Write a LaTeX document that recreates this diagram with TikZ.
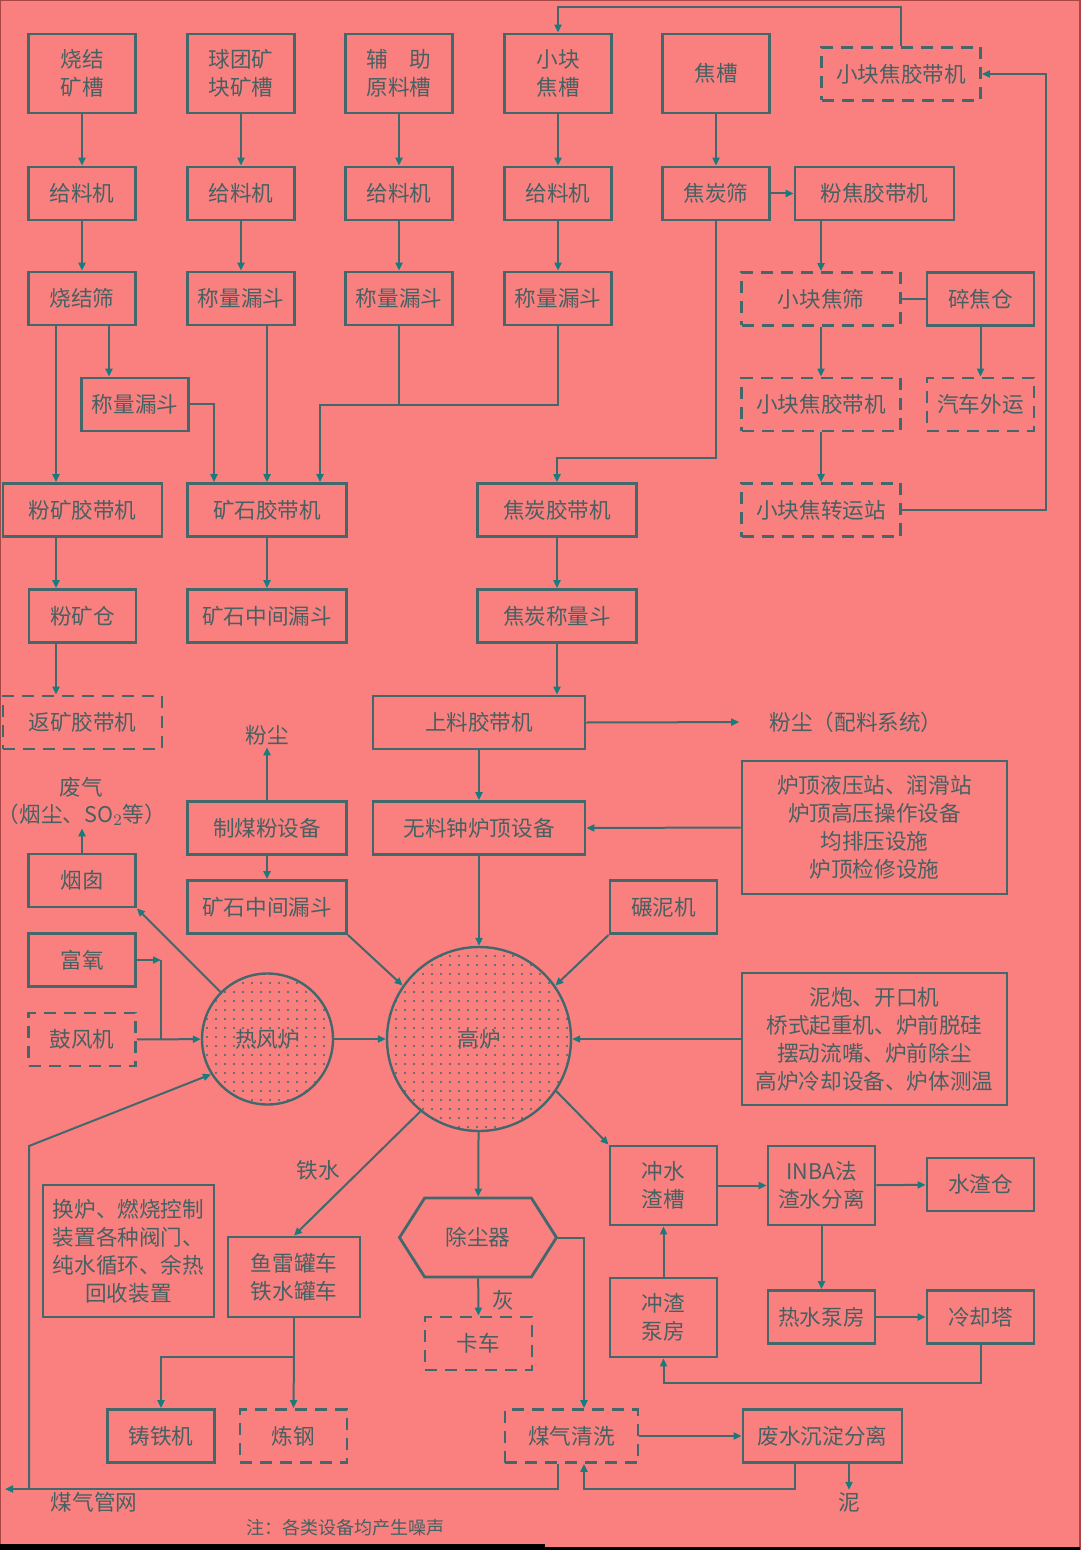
\documentclass[tikz,border=0pt]{standalone}
\usepackage{fontspec}
\setmainfont{Noto Sans CJK SC}
\usetikzlibrary{arrows.meta,shapes.symbols,patterns.meta}
\definecolor{bgc}{RGB}{250,128,128}
\definecolor{edgec}{RGB}{170,70,70}
\definecolor{lnc}{RGB}{66,104,108}
\definecolor{tipc}{RGB}{24,124,126}
\definecolor{txc}{RGB}{72,96,98}
\begin{document}
\begin{tikzpicture}[x=0.5pt,y=-0.5pt,
  every node/.style={font=\fontsize{10.8}{14}\selectfont, text=txc},
  box/.style={draw=lnc, line width=1.4pt, minimum width=53.5pt, minimum height=26.5pt, align=center, inner sep=1pt},
  tall/.style={box, minimum height=39.5pt},
  wide/.style={box, minimum width=79.5pt},
  dashbox/.style={dash pattern=on 6pt off 4pt},
  lbl/.style={inner sep=1pt},
  arr/.style={lnc, line width=1pt, -{Triangle[length=4pt,width=3.5pt,color=tipc]}},
  ln/.style={lnc, line width=1pt},
  furnace/.style={circle, draw=lnc, line width=1.2pt, inner sep=0pt, pattern={Dots[distance=4.5pt,radius=0.6pt]}, pattern color=lnc}]
\useasboundingbox (0,0) rectangle (1080,1550);
\fill[bgc] (0,0) rectangle (1080,1550);
\draw[edgec, line width=1pt] (0,1550) -- (0,0) -- (1080,0) -- (1080,1550);
\fill[black] (0,1544) rectangle (545,1550);
\fill[black] (545,1547) rectangle (1080,1550);
% bins
\node[tall] (sjc) at (82,73.5) {烧结\\矿槽};
\node[tall] (qtc) at (241,73.5) {球团矿\\块矿槽};
\node[tall] (fzc) at (399,73.5) {辅\hspace{1em}助\\原料槽};
\node[tall] (xkc) at (558,73.5) {小块\\焦槽};
\node[tall] (jc) at (716,73.5) {焦槽};
\node[wide,dashbox] (xkd1) at (901,74) {小块焦胶带机};
% feeders
\node[box] (gl1) at (82,193.5) {给料机};
\node[box] (gl2) at (241,193.5) {给料机};
\node[box] (gl3) at (399,193.5) {给料机};
\node[box] (gl4) at (558,193.5) {给料机};
\node[box] (jts) at (716,193.5) {焦炭筛};
\node[wide] (fjd) at (874.5,193.5) {粉焦胶带机};
% screens, hoppers
\node[box] (sjs) at (82,298.5) {烧结筛};
\node[box] (cl2) at (241,298.5) {称量漏斗};
\node[box] (cl3) at (399,298.5) {称量漏斗};
\node[box] (cl4) at (558,298.5) {称量漏斗};
\node[wide,dashbox] (xks) at (821,299) {小块焦筛};
\node[box] (sjcang) at (980.5,299) {碎焦仓};
\node[box] (cl1) at (135,404.5) {称量漏斗};
\node[wide,dashbox] (xkd2) at (821,404.5) {小块焦胶带机};
\node[box,dashbox] (qcwy) at (980.5,404.5) {汽车外运};
% belts
\node[wide] (fkd) at (82.5,510) {粉矿胶带机};
\node[wide] (ksd) at (267,510) {矿石胶带机};
\node[wide] (jtd) at (557,510) {焦炭胶带机};
\node[wide,dashbox] (zyz) at (821,510) {小块焦转运站};
\node[box] (fkc) at (82.5,616) {粉矿仓};
\node[wide] (ksl1) at (267,616) {矿石中间漏斗};
\node[wide] (jtl) at (557,616) {焦炭称量斗};
\node[wide,dashbox] (fhd) at (82.5,722.5) {返矿胶带机};
\node[box, minimum width=106pt] (sld) at (479,722.5) {上料胶带机};
\node[lbl] (fc2) at (856,722) {粉尘（配料系统）};
% furnace top
\node[lbl] (fc1) at (267,735) {粉尘};
\node[lbl] (fq1) at (81,787) {废气};
\node[lbl] (fq2) at (82,815) {（烟尘、SO$_2$等）};
\node[wide] (zmf) at (267,828) {制煤粉设备};
\node[box, minimum width=106pt] (wlz) at (479,828) {无料钟炉顶设备};
\node[box, minimum width=132.5pt, minimum height=66.5pt] (ldb) at (874.5,827.5) {炉顶液压站、润滑站\\炉顶高压操作设备\\均排压设施\\炉顶检修设施};
\node[box] (yc) at (82,880.5) {烟囱};
\node[wide] (ksl2) at (267,907) {矿石中间漏斗};
\node[box] (nnj) at (663.5,907) {碾泥机};
\node[box] (fy) at (82,960) {富氧};
\node[box,dashbox] (gfj) at (82,1039.5) {鼓风机};
\node[furnace, minimum size=65.5pt] (rfl) at (267.5,1039) {热风炉};
\node[furnace, minimum size=92pt] (gl) at (479,1039) {高炉};
\node[box, minimum width=132.5pt, minimum height=66pt] (npb) at (874.5,1039) {泥炮、开口机\\桥式起重机、炉前脱硅\\摆动流嘴、炉前除尘\\高炉冷却设备、炉体测温};
% furnace bottom
\node[lbl] (tsh) at (318,1170) {铁水};
\node[tall] (csz) at (663.5,1185.5) {冲水\\渣槽};
\node[tall] (inba) at (821.5,1185.5) {INBA法\\渣水分离};
\node[box] (szc) at (980.5,1184.5) {水渣仓};
\node[box, minimum width=85.5pt, minimum height=66pt] (hl) at (128.5,1251) {换炉、燃烧控制\\装置各种阀门、\\纯水循环、余热\\回收装置};
\node[signal, signal to=east and west, signal pointer angle=115, draw=lnc, line width=1.4pt, minimum width=78.5pt, minimum height=39.5pt, inner sep=1pt] (ccq) at (478,1237.5) {除尘器};
\node[box, minimum width=66pt, minimum height=40pt] (ylc) at (294,1277) {鱼雷罐车\\铁水罐车};
\node[lbl] (hui) at (503,1300) {灰};
\node[box,dashbox] (kc) at (478.5,1343.5) {卡车};
\node[tall] (czb) at (663.5,1317.5) {冲渣\\泵房};
\node[box] (rsb) at (821.5,1317) {热水泵房};
\node[box] (lqt) at (980.5,1317) {冷却塔};
\node[box] (ztj) at (161,1436) {铸铁机};
\node[box,dashbox] (lg) at (293.5,1436) {炼钢};
\node[box,dashbox, minimum width=66.5pt] (mqq) at (571.5,1436) {煤气清洗};
\node[wide] (fsc) at (822.5,1436) {废水沉淀分离};
\node[lbl] (ni) at (849,1502) {泥};
\node[lbl] (mqgw) at (94,1502) {煤气管网};
\node[lbl, font=\fontsize{9}{11}\selectfont] (zhu) at (345,1528) {注：各类设备均产生噪声};
% bend points
\coordinate (mg) at (320,405);
\coordinate (tpb) at (558,7);
\coordinate (rtb) at (1046,510);
\coordinate (jtb) at (557,458);
\coordinate (fyb) at (161,960);
\coordinate (ysp) at (294,1357);
\coordinate (lqb) at (980.5,1383);
\coordinate (gasL) at (5,1489);
\coordinate (gasC) at (29,1489);
\coordinate (gasK) at (29,1146);
\coordinate (sjR) at ([xshift=13.5pt]sjs.south);
\coordinate (sjL) at ([xshift=-13pt]sjs.south);
\coordinate (fkL) at ([xshift=-13.25pt]fkd.south);
\coordinate (mqL) at ([xshift=-6.75pt]mqq.south);
\coordinate (mqR) at ([xshift=6.25pt]mqq.south);
% ore lines
\draw[arr] (sjc) -- (gl1);
\draw[arr] (qtc) -- (gl2);
\draw[arr] (fzc) -- (gl3);
\draw[arr] (xkc) -- (gl4);
\draw[arr] (gl1) -- (sjs);
\draw[arr] (gl2) -- (cl2);
\draw[arr] (gl3) -- (cl3);
\draw[arr] (gl4) -- (cl4);
\draw[arr] (sjR) -- (sjR |- cl1.north);
\draw[arr] (sjL) -- (sjL |- fkd.north);
\draw[arr] (cl1.east) -| ([xshift=-26.5pt]ksd.north);
\draw[arr] (cl2.south -| ksd.north) -- (ksd.north);
\draw[ln] (cl3.south) -- (cl3.south |- mg);
\draw[arr] (cl4.south) |- (mg) -- (mg |- ksd.north);
\draw[arr] (fkL) -- (fkL |- fkc.north);
\draw[arr] (fkL |- fkc.south) -- (fkL |- fhd.north);
\draw[arr] (ksd) -- (ksl1);
% coke lines
\draw[arr] (xkd1.north) |- (tpb) -- (xkc.north);
\draw[arr] (jc) -- (jts);
\draw[arr] (jts) -- (fjd);
\draw[arr] (fjd.south -| xks.north) -- (xks.north);
\draw[ln] (xks) -- (sjcang);
\draw[arr] (sjcang) -- (qcwy);
\draw[arr] (xks) -- (xkd2);
\draw[arr] (xkd2) -- (zyz);
\draw[arr] (zyz.east) -- (rtb) |- (xkd1.east);
\draw[arr] (jts.south) |- (jtb) -- (jtd.north);
\draw[arr] (jtd) -- (jtl);
\draw[arr] (jtl.south) -- (jtl.south |- sld.north);
\draw[arr, shorten >=14pt] (sld.east) -- (fc2.west);
\draw[arr] (sld) -- (wlz);
\draw[arr] (ldb.west) -- (wlz.east);
\draw[arr] (wlz) -- (gl);
% around the furnaces
\draw[arr] (zmf) -- (fc1);
\draw[arr] (zmf) -- (ksl2);
\draw[arr] (yc) -- (fq2);
\draw[arr] (ksl2.south east) -- (gl.145);
\draw[arr] (nnj.south west) -- (gl.35);
\draw[arr] (rfl.135) -- (yc.south east);
\draw[arr] (fy.east) -- (fyb);
\draw[ln] (fyb) -- (fyb |- gfj.east);
\draw[arr] (gfj) -- (rfl);
\draw[arr] (rfl) -- (gl);
\draw[arr] (npb.west) -- (gl.east);
\draw[arr] (gl.231) -- (ylc.north);
\draw[arr] (gl.326) -- (csz.north west);
\draw[arr] (gl) -- (ccq);
\draw[arr] (ccq) -- (kc);
% slag water
\draw[arr] (csz) -- (inba);
\draw[arr] (inba) -- (szc);
\draw[arr] (inba) -- (rsb);
\draw[arr] (rsb) -- (lqt);
\draw[arr] (lqt.south) -- (lqb) -| (czb.south);
\draw[arr] (czb) -- (csz);
% hot metal
\draw[ln] (ylc.south) -- (ysp);
\draw[arr] (ysp) -| (ztj.north);
\draw[arr] (ysp) -- (lg.north);
% gas
\draw[arr] (ccq.east) -| (mqR |- mqq.north);
\draw[arr] (mqq) -- (fsc);
\draw[arr] ([xshift=-13.75pt]fsc.south) |- (mqR |- gasL) -- (mqR);
\draw[arr] ([xshift=13.25pt]fsc.south) -- (ni.north);
\draw[arr] (mqL) |- (gasL);
\draw[arr] (gasC) -- (gasK) -- (rfl.212);
\end{tikzpicture}
\end{document}
